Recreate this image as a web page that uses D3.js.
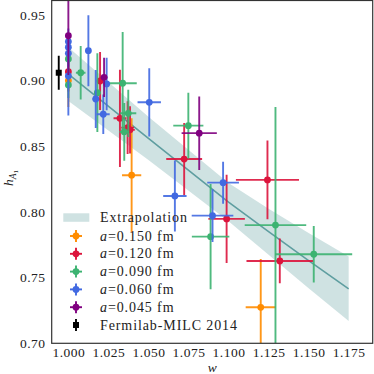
<!DOCTYPE html>
<html>
<head>
<meta charset="utf-8">
<script src="https://cdn.jsdelivr.net/npm/d3@7"></script>
<style>
  html, body { margin: 0; padding: 0; background: #fff; }
  text { font-family: "Liberation Serif", serif; fill: #222; }
</style>
</head>
<body>
<div id="chart"></div>
<script>
// Datos
const xTicks = [1.000, 1.025, 1.050, 1.075, 1.100, 1.125, 1.150, 1.175];
const yTicks = [0.70, 0.75, 0.80, 0.85, 0.90, 0.95];

// banda de extrapolación (centro y semiancho)
const bandW = [1.000, 1.050, 1.100, 1.125, 1.150, 1.175];
const bandC = [0.905, 0.856, 0.8075, 0.785, 0.763, 0.7415];
const bandH = [0.0205, 0.0165, 0.0145, 0.0175, 0.021, 0.0245];

// a = 0.150 fm
const w150 = [1.000, 1.0395, 1.1201];
const h150 = [0.900, 0.828, 0.7274];
const we150 = [0, 0.006, 0.0094];
const he150 = [0.02, 0.0434, 0.0367];

// a = 0.120 fm
const w120 = [1.000, 1.0198, 1.0322, 1.0370, 1.0385, 1.0723, 1.0988, 1.1243, 1.1320];
const h120 = [0.9068, 0.8997, 0.8713, 0.8642, 0.8625, 0.8403, 0.7947, 0.8244, 0.7627];
const we120 = [0, 0.002, 0.004, 0.004, 0.003, 0.0112, 0.0114, 0.0197, 0.0208];
const he120 = [0.015, 0.022, 0.037, 0.02, 0.018, 0.0275, 0.0336, 0.030, 0.017];

// a = 0.090 fm
const w090 = [1.000, 1.000, 1.0077, 1.0181, 1.0339, 1.0349, 1.0374, 1.0749, 1.0888, 1.1293, 1.1532];
const h090 = [0.9165, 0.8967, 0.906, 0.8908, 0.898, 0.861, 0.8751, 0.8657, 0.7812, 0.790, 0.7678];
const we090 = [0, 0, 0.003, 0.002, 0.0088, 0.003, 0.005, 0.0094, 0.0117, 0.0192, 0.024];
const he090 = [0.01, 0.01, 0.0203, 0.03, 0.039, 0.022, 0.018, 0.025, 0.040, 0.09, 0.0216];

// a = 0.060 fm
const w060 = [1.000, 1.000, 1.000, 1.000, 1.0125, 1.0171, 1.0239, 1.0218, 1.0505, 1.0665, 1.0966, 1.0900];
const h060 = [0.9297, 0.9254, 0.9208, 0.9035, 0.9228, 0.886, 0.8975, 0.8744, 0.8835, 0.8122, 0.8223, 0.7972];
const we060 = [0, 0, 0, 0, 0.0015, 0.002, 0.002, 0.004, 0.0073, 0.0073, 0.0099, 0.013];
const he060 = [0.01, 0.01, 0.01, 0.03, 0.027, 0.022, 0.02, 0.015, 0.026, 0.027, 0.016, 0.02];

// a = 0.045 fm
const w045 = [1.000, 1.0223, 1.0817];
const h045 = [0.9342, 0.9025, 0.860];
const we045 = [0, 0.002, 0.011];
const he045 = [0.03, 0.015, 0.028];

// Fermilab-MILC 2014
const wFM = [0.994];
const hFM = [0.906];
const heFM = [0.013];

const series = [
    { label: "0.150", color: "#ff8c00", w: w150, h: h150, we: we150, he: he150 },
    { label: "0.120", color: "#dc143c", w: w120, h: h120, we: we120, he: he120 },
    { label: "0.090", color: "#3cb371", w: w090, h: h090, we: we090, he: he090 },
    { label: "0.060", color: "#4169e1", w: w060, h: h060, we: we060, he: he060 },
    { label: "0.045", color: "#800080", w: w045, h: h045, we: we045, he: he045 }
];

const width = 374, height = 374;
const mLeft = 51.7, mRight = 372.7, mTop = 0.5, mBottom = 343.3;
const tickFont = "13.5px";
const legFont = "14px";

const svg = d3.select("#chart").append("svg")
    .attr("width", width)
    .attr("height", height);

const x = d3.scaleLinear().domain([0.9896, 1.190]).range([mLeft, mRight]);
const y = d3.scaleLinear().domain([0.70, 0.961]).range([mBottom, mTop]);

svg.append("defs").append("clipPath").attr("id", "clip")
    .append("rect")
    .attr("x", mLeft).attr("y", mTop)
    .attr("width", mRight - mLeft).attr("height", mBottom - mTop);

const plot = svg.append("g").attr("clip-path", "url(#clip)");

// banda
const band = bandW.map((w, i) => ({ w, c: bandC[i], h: bandH[i] }));
plot.append("path")
    .datum(band)
    .attr("fill", "#5f9ea0")
    .attr("fill-opacity", 0.3)
    .attr("d", d3.area().x(d => x(d.w)).y0(d => y(d.c - d.h)).y1(d => y(d.c + d.h)));

plot.append("path")
    .datum(band)
    .attr("fill", "none")
    .attr("stroke", "#5f9ea0")
    .attr("stroke-width", 1.6)
    .attr("d", d3.line().x(d => x(d.w)).y(d => y(d.c)));

// barras de error y puntos
series.forEach(s => {
    const g = plot.append("g");
    const pts = s.w.map((w, i) => ({ w, h: s.h[i], we: s.we[i], he: s.he[i] }));
    g.selectAll("line.v").data(pts).enter().append("line")
        .attr("x1", d => x(d.w)).attr("x2", d => x(d.w))
        .attr("y1", d => y(d.h - d.he)).attr("y2", d => y(d.h + d.he))
        .attr("stroke", s.color).attr("stroke-width", 1.9).attr("stroke-opacity", 0.9);
    g.selectAll("line.h").data(pts.filter(d => d.we > 0)).enter().append("line")
        .attr("x1", d => x(d.w - d.we)).attr("x2", d => x(d.w + d.we))
        .attr("y1", d => y(d.h)).attr("y2", d => y(d.h))
        .attr("stroke", s.color).attr("stroke-width", 1.9).attr("stroke-opacity", 0.9);
    g.selectAll("circle").data(pts).enter().append("circle")
        .attr("cx", d => x(d.w)).attr("cy", d => y(d.h))
        .attr("r", 3.4)
        .attr("fill", s.color);
});

// Fermilab-MILC
const fm = wFM.map((w, i) => ({ w, h: hFM[i], he: heFM[i] }));
plot.selectAll("line.fm").data(fm).enter().append("line")
    .attr("x1", d => x(d.w)).attr("x2", d => x(d.w))
    .attr("y1", d => y(d.h - d.he)).attr("y2", d => y(d.h + d.he))
    .attr("stroke", "#000").attr("stroke-width", 1.9);
plot.selectAll("rect.fm").data(fm).enter().append("rect")
    .attr("x", d => x(d.w) - 3).attr("y", d => y(d.h) - 3)
    .attr("width", 6).attr("height", 6)
    .attr("fill", "#000");

// ejes
const xAxis = svg.append("g")
    .attr("transform", `translate(0,${mBottom})`)
    .call(d3.axisBottom(x).tickValues(xTicks).tickFormat(d3.format(".3f")).tickSize(0).tickPadding(4.5));
const yAxis = svg.append("g")
    .attr("transform", `translate(${mLeft},0)`)
    .call(d3.axisLeft(y).tickValues(yTicks).tickFormat(d3.format(".2f")).tickSize(0).tickPadding(6.2));
[xAxis, yAxis].forEach(a => {
    a.select(".domain").remove();
    a.attr("font-family", null).attr("font-size", null);
    a.selectAll("text").style("font-size", tickFont).style("letter-spacing", "0.5px").attr("fill", "#222");
});

svg.append("rect")
    .attr("x", mLeft).attr("y", mTop)
    .attr("width", mRight - mLeft).attr("height", mBottom - mTop)
    .attr("fill", "none").attr("stroke", "#333").attr("stroke-width", 1.2);

// etiquetas de ejes
svg.append("text")
    .attr("x", (mLeft + mRight) / 2).attr("y", 372)
    .attr("text-anchor", "middle")
    .style("font-size", "13.5px").style("font-style", "italic")
    .text("w");

const yl = svg.append("text")
    .attr("transform", "translate(13,178) rotate(-90)")
    .attr("text-anchor", "middle")
    .style("font-size", "13.5px");
yl.append("tspan").style("font-style", "italic").text("h");
yl.append("tspan").attr("dy", 3).style("font-size", "9.5px").style("font-style", "italic").text("A");
yl.append("tspan").attr("dy", 2).style("font-size", "7px").text("1");

// leyenda
const leg = svg.append("g").style("letter-spacing", "0.9px");
leg.append("rect")
    .attr("x", 63.3).attr("y", 213.3).attr("width", 26).attr("height", 8.5)
    .attr("fill", "#5f9ea0").attr("fill-opacity", 0.3);
leg.append("text").attr("x", 100).attr("y", 222.3)
    .style("font-size", legFont).text("Extrapolation");

series.forEach((s, i) => {
    const cy = 236 + i * 17.8;
    leg.append("line").attr("x1", 70).attr("x2", 82).attr("y1", cy).attr("y2", cy)
        .attr("stroke", s.color).attr("stroke-width", 1.9);
    leg.append("line").attr("x1", 76).attr("x2", 76).attr("y1", cy - 6).attr("y2", cy + 6)
        .attr("stroke", s.color).attr("stroke-width", 1.9);
    leg.append("circle").attr("cx", 76).attr("cy", cy).attr("r", 3.4).attr("fill", s.color);
    const t = leg.append("text").attr("x", 100).attr("y", cy + 4.5).style("font-size", legFont);
    t.append("tspan").style("font-style", "italic").text("a");
    t.append("tspan").text("=" + s.label + " fm");
});
const fy = 236 + 5 * 17.8;
leg.append("line").attr("x1", 76).attr("x2", 76).attr("y1", fy - 6).attr("y2", fy + 6)
    .attr("stroke", "#000").attr("stroke-width", 1.9);
leg.append("rect").attr("x", 73).attr("y", fy - 3).attr("width", 6).attr("height", 6).attr("fill", "#000");
leg.append("text").attr("x", 100).attr("y", fy + 4.5).style("font-size", legFont).text("Fermilab-MILC 2014");
</script>
</body>
</html>
